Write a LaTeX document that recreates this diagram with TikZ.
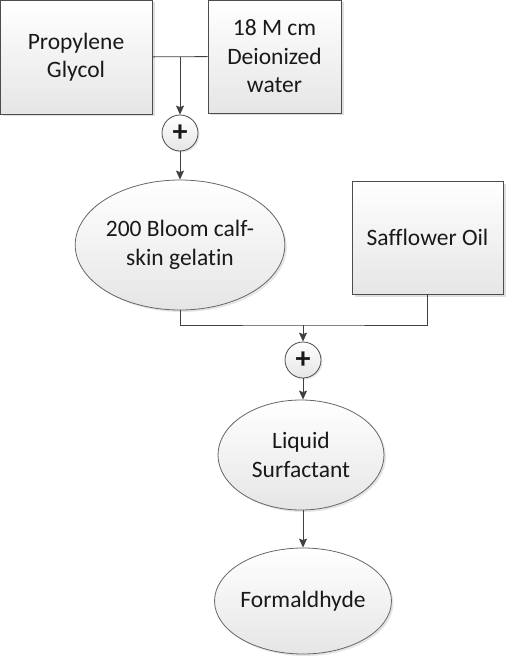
\documentclass[tikz,border=0pt]{standalone}
\usepackage{fontspec}
\setmainfont{Carlito}[Ligatures=NoCommon]
\usetikzlibrary{shapes.geometric,shadows,arrows.meta}
\begin{document}
\begin{tikzpicture}[x=1pt,y=-1pt,
    every node/.style={font=\fontsize{23.5}{28.5}\selectfont, text=black!90, inner sep=0pt, align=center},
    stuff/.style={rectangle, draw=black!70, line width=0.9pt, top color=white, bottom color=black!10,
        drop shadow={shadow xshift=2.5pt, shadow yshift=-2.5pt, fill=black!25}},
    blob/.style={ellipse, draw=black!60, line width=0.8pt, top color=white, bottom color=black!10,
        drop shadow={shadow xshift=2pt, shadow yshift=-2pt, fill=black!20}},
    mix/.style={circle, draw=black!70, line width=0.8pt, minimum size=36pt, top color=white, bottom color=black!10,
        font=\fontsize{30}{30}\selectfont\bfseries,
        drop shadow={shadow xshift=1.5pt, shadow yshift=-1.5pt, fill=black!20}},
    flow/.style={draw=black!75, line width=0.9pt},
    >={Stealth[length=9pt,width=8pt,inset=1.5pt]}]
    \useasboundingbox (0,0) rectangle (506,658);
    % the ingredients
    \node[stuff, minimum width=152pt, minimum height=114pt] (glycol) at (76,57) {Propylene\\Glycol};
    \node[stuff, minimum width=133pt, minimum height=113pt] (water) at (274.5,56.5) {18 M cm\\Deionized\\water};
    \node[stuff, minimum width=151pt, minimum height=113pt] (oil) at (427.5,237.5) {Safflower Oil};
    % the mixing points
    \node[mix] (plus1) at (180,133) {+};
    \node[mix] (plus2) at (303,360) {+};
    % the products
    \node[blob, minimum width=194pt, minimum height=130pt] (gelatin) at (180,245) {200 Bloom calf-\\skin gelatin};
    \node[blob, minimum width=166pt, minimum height=110pt] (surf) at (301,455) {Liquid\\Surfactant};
    \node[blob, minimum width=160pt, minimum height=106pt] (form) at (303,601) {Formaldhyde};
    % junctions of the lines
    \coordinate (j1) at (180,57);
    \coordinate (j2) at (303,325);
    % draw the lines
    \draw[flow] (glycol) -- (water);
    \draw[flow,->] (j1) -- (plus1);
    \draw[flow,->] (plus1) -- (gelatin);
    \draw[flow] (gelatin.south) |- (j2) -| (oil.south);
    \draw[flow,->] (j2) -- (plus2);
    \draw[flow,->] (plus2) -- (surf.north -| plus2);
    \draw[flow,->] (surf.south -| form) -- (form);
\end{tikzpicture}
\end{document}
